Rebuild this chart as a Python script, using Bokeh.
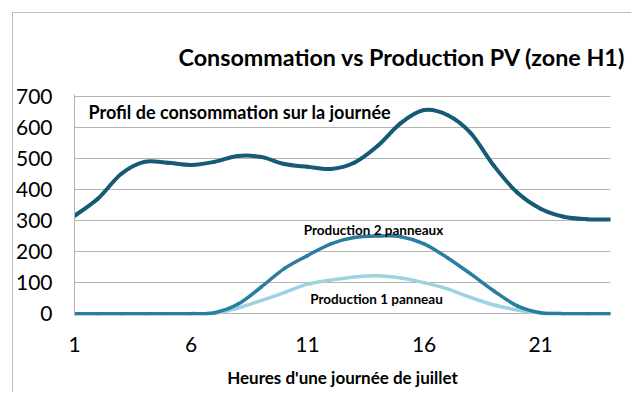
import numpy as np
from bokeh.plotting import figure
from bokeh.models import Label, FixedTicker, Range1d
from bokeh.embed import file_html
from bokeh.resources import INLINE

# ---- data ----
hours = list(range(1, 25))
consommation = [315, 370, 450, 489, 486, 479, 489, 508, 505, 482, 473, 466,
                486, 540, 614, 656, 640, 582, 476, 390, 338, 312, 304, 303]
production_2 = [0, 0, 0, 0, 0, 0, 3, 30, 85, 145, 187, 225,
                245, 250, 248, 225, 180, 128, 73, 25, 3, 0, 0, 0]
production_1 = [0, 0, 0, 0, 0, 0, 1, 18, 42, 68, 95, 108,
                118, 122, 115, 100, 80, 52, 28, 12, 2, 0, 0, 0]
x_ticks = [1, 6, 11, 16, 21]
y_ticks = [0, 100, 200, 300, 400, 500, 600, 700]

title_text = "Consommation vs Production PV (zone H1)"
x_title = "Heures d'une journée de juillet"
lbl_conso = "Profil de consommation sur la journée"
lbl_p2 = "Production 2 panneaux"
lbl_p1 = "Production 1 panneau"

FONT = "Lato"

p = figure(width=631, height=392, output_backend="svg", toolbar_location=None,
           x_range=Range1d(1, 24), y_range=Range1d(-6, 706),
           min_border_left=74, min_border_right=21, min_border_top=94, min_border_bottom=77)
p.outline_line_color = None
p.background_fill_color = "white"
p.border_fill_color = None
p.styles = {
    "background": "linear-gradient(#bdbdbd,#bdbdbd) 12px 12px / 1px 100% no-repeat, "
                  "linear-gradient(#bdbdbd,#bdbdbd) 12px 12px / 100% 1px no-repeat, white"
}

# title
p.title.text = title_text
p.title.text_font = FONT
p.title.text_font_style = "bold"
p.title.text_font_size = "23.3px"
p.title.text_color = "black"
p.title.align = "left"
p.title.offset = 104
p.title.standoff = 47

# grid
p.xgrid.grid_line_color = None
p.ygrid.grid_line_color = "#b4b4b4"
p.ygrid.grid_line_width = 1

# axes
p.xaxis.ticker = FixedTicker(ticks=x_ticks)
p.yaxis.ticker = FixedTicker(ticks=y_ticks)
for ax in (p.xaxis[0], p.yaxis[0]):
    ax.major_tick_line_color = None
    ax.minor_tick_line_color = None
    ax.major_label_text_font = FONT
    ax.major_label_text_font_size = "21px"
    ax.major_label_text_color = "black"
p.xaxis.axis_line_color = None
p.yaxis.axis_line_color = "#b4b4b4"
p.yaxis.major_label_standoff = 16
p.xaxis.major_label_standoff = 15
p.xaxis.axis_label = x_title
p.xaxis.axis_label_text_font = FONT
p.xaxis.axis_label_text_font_style = "bold"
p.xaxis.axis_label_text_font_size = "17px"
p.xaxis.axis_label_text_color = "black"
p.xaxis.axis_label_standoff = 12


def smooth_segments(xs, ys):
    xs = np.asarray(xs, float)
    ys = np.asarray(ys, float)
    n = len(xs)
    px = np.concatenate([[xs[0]], xs, [xs[-1]]])
    py = np.concatenate([[ys[0]], ys, [ys[-1]]])
    out = {k: [] for k in ("x0", "y0", "x1", "y1", "cx0", "cy0", "cx1", "cy1")}
    for i in range(n - 1):
        a, b, c, d = i, i + 1, i + 2, i + 3
        out["x0"].append(px[b]); out["y0"].append(py[b])
        out["x1"].append(px[c]); out["y1"].append(py[c])
        out["cx0"].append(px[b] + (px[c] - px[a]) / 6)
        out["cy0"].append(py[b] + (py[c] - py[a]) / 6)
        out["cx1"].append(px[c] - (px[d] - px[b]) / 6)
        out["cy1"].append(py[c] - (py[d] - py[b]) / 6)
    return out


series = [
    (production_1, "#9fd2e0", 3.5),
    (production_2, "#2a7da0", 3.5),
    (consommation, "#165a76", 4),
]
for ys, col, w in series:
    seg = smooth_segments(hours, ys)
    p.bezier(x0="x0", y0="y0", x1="x1", y1="y1", cx0="cx0", cy0="cy0", cx1="cx1", cy1="cy1",
             source=seg, line_color=col, line_width=w, line_cap="round")

# in-plot texts
p.add_layout(Label(x=1.6, y=651, text=lbl_conso, text_align="left", text_baseline="middle",
                   text_font=FONT, text_font_style="bold", text_font_size="18px", text_color="black"))
p.add_layout(Label(x=13.83, y=271, text=lbl_p2, text_align="center", text_baseline="middle",
                   text_font=FONT, text_font_style="bold", text_font_size="13.5px", text_color="black"))
p.add_layout(Label(x=13.96, y=48, text=lbl_p1, text_align="center", text_baseline="middle",
                   text_font=FONT, text_font_style="bold", text_font_size="13.5px", text_color="black"))

open("out.html", "w").write(file_html(p, INLINE))
